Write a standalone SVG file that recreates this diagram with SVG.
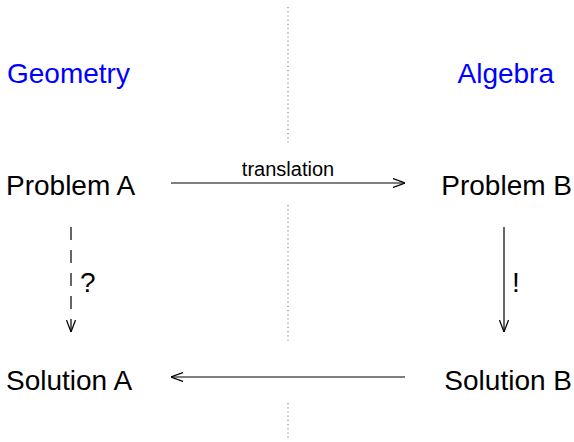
<svg xmlns="http://www.w3.org/2000/svg" width="574" height="442" viewBox="0 0 574 442">
<style>
text{font-family:"Liberation Sans",Arial,sans-serif;fill:#000}
.lbl{font-size:28px}
.hdr{font-size:28px;fill:#0000ff}
.small{font-size:20px}
.ln{stroke:#000;stroke-width:1.2;fill:none}
.dot{stroke:#888;stroke-width:1.2;stroke-dasharray:1.2 3;fill:none}
</style>
<defs>
<marker id="ah" viewBox="0 0 12 10" refX="12" refY="5" markerWidth="12" markerHeight="10" markerUnits="userSpaceOnUse" orient="auto">
<path d="M0,0.5 L12,5 L0,9.5" fill="none" stroke="#000" stroke-width="1.2"/>
</marker>
</defs>
<g id="divider">
<line class="dot" x1="288" y1="7" x2="288" y2="143"/>
<line class="dot" x1="288" y1="205" x2="288" y2="342"/>
<line class="dot" x1="288" y1="403" x2="288" y2="440"/>
</g>
<g id="geometry"><text class="hdr" x="7" y="83">Geometry</text></g>
<g id="algebra"><text class="hdr" x="554" y="83" text-anchor="end">Algebra</text></g>
<g id="problemA"><text class="lbl" x="6" y="195">Problem A</text></g>
<g id="problemB"><text class="lbl" x="572" y="195" text-anchor="end">Problem B</text></g>
<g id="solutionA"><text class="lbl" x="6" y="390">Solution A</text></g>
<g id="solutionB"><text class="lbl" x="572" y="390" text-anchor="end">Solution B</text></g>
<g id="connectors">
<line class="ln" x1="171" y1="183" x2="405" y2="183" marker-end="url(#ah)"/>
<text class="small" x="288" y="176" text-anchor="middle">translation</text>
<line class="ln" x1="71" y1="227" x2="71" y2="332" stroke-dasharray="13 10" marker-end="url(#ah)"/>
<text class="lbl" x="80" y="292">?</text>
<line class="ln" x1="504" y1="227" x2="504" y2="332" marker-end="url(#ah)"/>
<text class="lbl" x="512" y="292">!</text>
<line class="ln" x1="405" y1="377" x2="171" y2="377" marker-end="url(#ah)"/>
</g>
</svg>
